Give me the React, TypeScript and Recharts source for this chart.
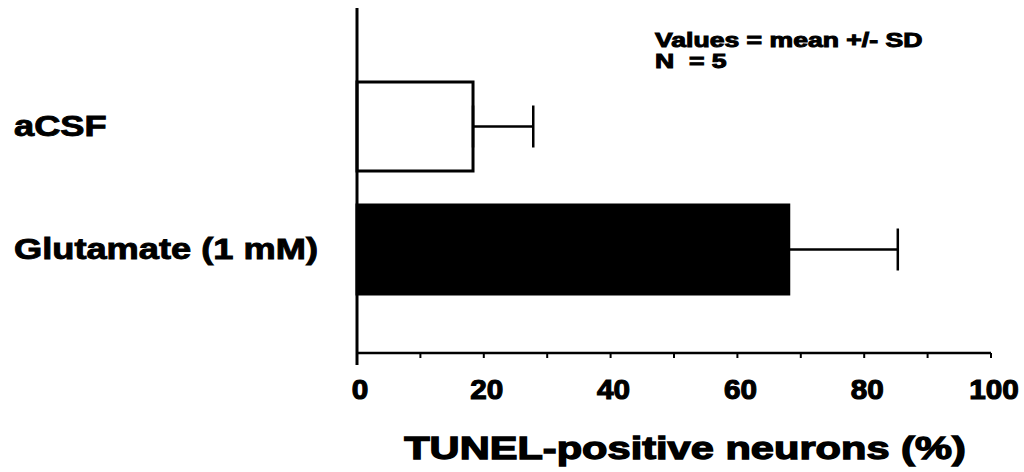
import React from 'react';
import { BarChart, Bar, XAxis, YAxis, ErrorBar, Cell, Label } from 'recharts';

const categories = ['aCSF', 'Glutamate (1 mM)'];
const means = [18.3, 68.1];
const sds = [9.5, 17.2];
const fills = ['#ffffff', '#000000'];
const xTicks = [0, 10, 20, 30, 40, 50, 60, 70, 80, 90, 100];
const xLabelTicks = [0, 20, 40, 60, 80, 100];
const xTitle = 'TUNEL-positive neurons (%)';
const noteLines = ['Values = mean +/- SD', 'N  = 5'];

const data = categories.map((name, i) => ({
  name,
  value: means[i],
  err: [0, sds[i]],
}));

const FONT = '"Liberation Sans", Arial, Helvetica, sans-serif';

const Stretch = ({ x, y, sx, fs, anchor = 'start', sw = 1, children }: any) => (
  <text
    transform={`translate(${x},${y}) scale(${sx},1)`}
    textAnchor={anchor}
    fontSize={fs}
    fontFamily={FONT}
    fontWeight="bold"
    fill="#000"
    stroke="#000"
    strokeWidth={sw}
    style={{ whiteSpace: 'pre' }}
  >
    {children}
  </text>
);

const XTick = (props: any) => {
  const { x, y, payload } = props;
  const v = payload.value;
  const axisY = y - 7;
  return (
    <g>
      {v === 0 && <line x1={x} x2={x} y1={axisY} y2={axisY + 12} stroke="#000" strokeWidth={3} />}
      {xLabelTicks.includes(v) && (
        <Stretch x={x + 3} y={y + 39} sx={1.1} fs={27} anchor="middle" sw={1.1}>
          {String(v)}
        </Stretch>
      )}
    </g>
  );
};

const YTick = (props: any) => {
  const { y, payload } = props;
  return (
    <Stretch x={14} y={y + 9} sx={1.25} fs={29} anchor="start" sw={0.9}>
      {payload.value}
    </Stretch>
  );
};

const TitleLabel = (props: any) => {
  const vb = props.viewBox || {};
  const cx = vb.x + vb.width / 2 + 11;
  return (
    <Stretch x={cx} y={459} sx={1.3} fs={32} anchor="middle" sw={1.3}>
      {xTitle}
    </Stretch>
  );
};

export default function App() {
  return (
    <div style={{ position: 'absolute', left: 0, top: 0, width: 1024, height: 472, background: '#fff' }}>
      <BarChart
        width={1024}
        height={472}
        data={data}
        layout="vertical"
        margin={{ top: 8, right: 33, left: 0, bottom: 0 }}
      >
        <XAxis
          type="number"
          domain={[0, 100]}
          ticks={xTicks}
          interval={0}
          height={119}
          tickSize={5}
          tickMargin={2}
          axisLine={{ stroke: '#000', strokeWidth: 2.5 }}
          tickLine={{ stroke: '#000', strokeWidth: 2 }}
          tick={<XTick />}
        >
          <Label content={<TitleLabel />} position="bottom" />
        </XAxis>
        <YAxis
          type="category"
          dataKey="name"
          width={357}
          padding={{ top: 57, bottom: 42 }}
          axisLine={{ stroke: '#000', strokeWidth: 3 }}
          tickLine={false}
          tick={<YTick />}
        />
        <Bar dataKey="value" barSize={89} stroke="#000" strokeWidth={3} isAnimationActive={false}>
          {data.map((d, i) => (
            <Cell key={d.name} fill={fills[i]} />
          ))}
          <ErrorBar dataKey="err" direction="x" width={21} stroke="#000" strokeWidth={2.5} isAnimationActive={false} />
        </Bar>
      </BarChart>
      <svg width={1024} height={472} style={{ position: 'absolute', left: 0, top: 0, pointerEvents: 'none' }}>
        {noteLines.map((t, i) => (
          <Stretch key={t} x={655} y={47 + i * 21} sx={1.33} fs={20} anchor="start" sw={1}>
            {t}
          </Stretch>
        ))}
      </svg>
    </div>
  );
}
